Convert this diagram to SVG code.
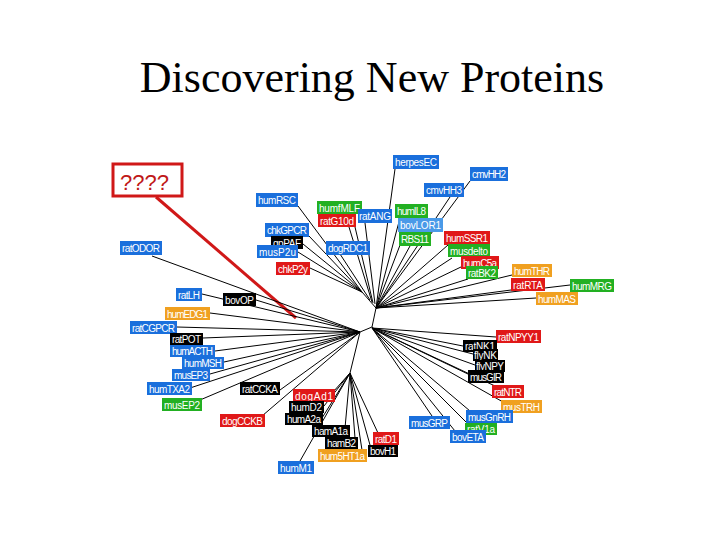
<svg xmlns="http://www.w3.org/2000/svg" width="720" height="540" viewBox="0 0 720 540">
<style>
.l{font-family:"Liberation Sans",Arial,sans-serif;font-size:10px;fill:#fff}
.b{fill:#1a6fdc}.g{fill:#22b022}.r{fill:#e01818}.o{fill:#f0a020}.k{fill:#000}.c{fill:#4a9ae8}
#edges line,#edges polyline{stroke:#000;stroke-width:1;fill:none}
</style>
<rect width="720" height="540" fill="#fff"/>
<text x="372" y="92" text-anchor="middle" font-family="Liberation Serif,serif" font-size="44">Discovering New Proteins</text>
<g id="unknown">
<rect x="113" y="164" width="69" height="32" fill="none" stroke="#d01818" stroke-width="3"/>
<text x="120" y="190" font-family="Liberation Sans,Arial,sans-serif" font-size="22" fill="#c01818">????</text>
<line x1="156" y1="197" x2="296" y2="318" stroke="#d01818" stroke-width="3"/>
</g>
<g id="edges">
<polyline points="362,292 376,308 372,327 360,332 350,373"/>
<line x1="298" y1="206" x2="362" y2="292"/><line x1="345" y1="214" x2="372" y2="302"/><line x1="355" y1="227" x2="373" y2="303"/><line x1="365" y1="223" x2="375" y2="304"/><line x1="309" y1="236" x2="362" y2="292"/><line x1="303" y1="244" x2="362" y2="292"/><line x1="298" y1="252" x2="362" y2="292"/><line x1="340" y1="254" x2="370" y2="300"/><line x1="310" y1="268" x2="362" y2="292"/>
<line x1="395" y1="169" x2="376" y2="308"/><line x1="470" y1="181" x2="376" y2="308"/><line x1="450" y1="197" x2="376" y2="308"/><line x1="400" y1="218" x2="376" y2="308"/><line x1="405" y1="232" x2="376" y2="308"/><line x1="410" y1="246" x2="376" y2="308"/><line x1="448" y1="245" x2="376" y2="308"/><line x1="452" y1="258" x2="376" y2="308"/><line x1="463" y1="266" x2="376" y2="308"/><line x1="468" y1="279" x2="376" y2="308"/><line x1="512" y1="275" x2="376" y2="308"/><line x1="511" y1="290" x2="376" y2="308"/><line x1="570" y1="285" x2="376" y2="308"/><line x1="536" y1="298" x2="376" y2="308"/>
<line x1="152" y1="256" x2="360" y2="332"/><line x1="256" y1="300" x2="360" y2="332"/><line x1="202" y1="294" x2="360" y2="332"/><line x1="210" y1="313" x2="360" y2="332"/><line x1="177" y1="327" x2="360" y2="332"/><line x1="203" y1="338" x2="360" y2="332"/><line x1="215" y1="351" x2="360" y2="332"/><line x1="224" y1="362" x2="360" y2="332"/><line x1="210" y1="374" x2="360" y2="332"/><line x1="190" y1="388" x2="360" y2="332"/><line x1="200" y1="400" x2="360" y2="332"/><line x1="280" y1="390" x2="360" y2="332"/><line x1="262" y1="416" x2="360" y2="332"/>
<line x1="333" y1="392" x2="350" y2="373"/><line x1="324" y1="406" x2="350" y2="373"/><line x1="322" y1="418" x2="350" y2="373"/><line x1="345" y1="428" x2="350" y2="373"/><line x1="355" y1="438" x2="350" y2="373"/><line x1="362" y1="450" x2="350" y2="373"/><line x1="378" y1="433" x2="350" y2="373"/><line x1="370" y1="445" x2="350" y2="373"/><line x1="300" y1="461" x2="350" y2="373"/>
<line x1="496" y1="337" x2="372" y2="328"/><line x1="463" y1="346" x2="372" y2="328"/><line x1="473" y1="354" x2="372" y2="328"/><line x1="475" y1="365" x2="372" y2="328"/><line x1="470" y1="375" x2="372" y2="328"/><line x1="495" y1="386" x2="372" y2="328"/><line x1="503" y1="402" x2="372" y2="328"/><line x1="470" y1="411" x2="372" y2="328"/><line x1="432" y1="416" x2="372" y2="328"/><line x1="468" y1="424" x2="372" y2="328"/><line x1="455" y1="431" x2="372" y2="328"/>
</g>
<g id="labels">
<g id="herpesEC"><rect class="b" x="393" y="155" width="46" height="14"/><text class="l" x="395" y="166" textLength="42">herpesEC</text></g>
<g id="cmvHH2"><rect class="b" x="470" y="167" width="38" height="14"/><text class="l" x="472" y="178" textLength="34">cmvHH2</text></g>
<g id="cmvHH3"><rect class="b" x="424" y="183" width="40" height="14"/><text class="l" x="426" y="194" textLength="36">cmvHH3</text></g>
<g id="humRSC"><rect class="b" x="256" y="193" width="42" height="14"/><text class="l" x="258" y="204" textLength="38">humRSC</text></g>
<g id="humfMLF"><rect class="g" x="317" y="201" width="45" height="13"/><text class="l" x="319" y="212" textLength="41">humfMLF</text></g>
<g id="ratG10d"><rect class="r" x="318" y="214" width="38" height="13"/><text class="l" x="320" y="225" textLength="34">ratG10d</text></g>
<g id="ratANG"><rect class="b" x="358" y="209" width="34" height="14"/><text class="l" x="359" y="220" textLength="32">ratANG</text></g>
<g id="humIL8"><rect class="g" x="395" y="204" width="33" height="14"/><text class="l" x="397" y="215" textLength="29">humIL8</text></g>
<g id="bovLOR1"><rect class="c" x="398" y="218" width="45" height="14"/><text class="l" x="400" y="229" textLength="41">bovLOR1</text></g>
<g id="chkGPCR"><rect class="b" x="265" y="223" width="44" height="14"/><text class="l" x="267" y="234" textLength="40">chkGPCR</text></g>
<g id="RBS11"><rect class="g" x="399" y="232" width="32" height="14"/><text class="l" x="401" y="243" textLength="28">RBS11</text></g>
<g id="humSSR1"><rect class="r" x="444" y="231" width="46" height="14"/><text class="l" x="446" y="242" textLength="42">humSSR1</text></g>
<g id="gpPAF"><rect class="k" x="271" y="236" width="32" height="13"/><text class="l" x="273" y="247" textLength="28">gpPAF</text></g>
<g id="dogRDC1"><rect class="b" x="326" y="241" width="44" height="14"/><text class="l" x="328" y="252" textLength="40">dogRDC1</text></g>
<g id="musP2u"><rect class="b" x="257" y="245" width="41" height="13"/><text class="l" x="259" y="256" textLength="37">musP2u</text></g>
<g id="musdelto"><rect class="g" x="448" y="244" width="42" height="13"/><text class="l" x="450" y="255" textLength="38">musdelto</text></g>
<g id="humC5a"><rect class="r" x="461" y="256" width="38" height="13"/><text class="l" x="463" y="267" textLength="34">humC5a</text></g>
<g id="chkP2y"><rect class="r" x="276" y="262" width="34" height="13"/><text class="l" x="278" y="273" textLength="30">chkP2y</text></g>
<g id="ratBK2"><rect class="g" x="466" y="266" width="32" height="13"/><text class="l" x="468" y="277" textLength="28">ratBK2</text></g>
<g id="humTHR"><rect class="o" x="512" y="264" width="40" height="13"/><text class="l" x="514" y="275" textLength="36">humTHR</text></g>
<g id="ratODOR"><rect class="b" x="120" y="241" width="42" height="14"/><text class="l" x="122" y="252" textLength="38">ratODOR</text></g>
<g id="ratRTA"><rect class="r" x="511" y="278" width="34" height="13"/><text class="l" x="513" y="289" textLength="30">ratRTA</text></g>
<g id="humMRG"><rect class="g" x="570" y="279" width="44" height="13"/><text class="l" x="572" y="290" textLength="40">humMRG</text></g>
<g id="bovOP"><rect class="k" x="223" y="293" width="33" height="13"/><text class="l" x="225" y="304" textLength="29">bovOP</text></g>
<g id="ratLH"><rect class="b" x="176" y="288" width="26" height="13"/><text class="l" x="178" y="299" textLength="22">ratLH</text></g>
<g id="humMAS"><rect class="o" x="536" y="292" width="42" height="13"/><text class="l" x="538" y="303" textLength="38">humMAS</text></g>
<g id="humEDG1"><rect class="o" x="165" y="307" width="45" height="13"/><text class="l" x="167" y="318" textLength="41">humEDG1</text></g>
<g id="ratCGPCR"><rect class="b" x="130" y="321" width="47" height="13"/><text class="l" x="132" y="332" textLength="43">ratCGPCR</text></g>
<g id="ratNPYY1"><rect class="r" x="496" y="330" width="45" height="13"/><text class="l" x="498" y="341" textLength="41">ratNPYY1</text></g>
<g id="ratNK1"><rect class="k" x="463" y="340" width="34" height="12"/><text class="l" x="465" y="350" textLength="30">ratNK1</text></g>
<g id="ratPOT"><rect class="k" x="170" y="333" width="33" height="12"/><text class="l" x="172" y="343" textLength="29">ratPOT</text></g>
<g id="flyNK"><rect class="k" x="473" y="349" width="25" height="12"/><text class="l" x="474" y="359" textLength="23">flyNK</text></g>
<g id="humACTH"><rect class="b" x="170" y="345" width="45" height="12"/><text class="l" x="172" y="355" textLength="41">humACTH</text></g>
<g id="humMSH"><rect class="b" x="182" y="357" width="42" height="12"/><text class="l" x="184" y="367" textLength="38">humMSH</text></g>
<g id="flyNPY"><rect class="k" x="475" y="360" width="30" height="12"/><text class="l" x="476" y="370" textLength="28">flyNPY</text></g>
<g id="musEP3"><rect class="b" x="172" y="369" width="38" height="12"/><text class="l" x="174" y="379" textLength="34">musEP3</text></g>
<g id="musGIR"><rect class="k" x="468" y="370" width="36" height="13"/><text class="l" x="470" y="381" textLength="32">musGIR</text></g>
<g id="humTXA2"><rect class="b" x="147" y="382" width="45" height="13"/><text class="l" x="149" y="393" textLength="41">humTXA2</text></g>
<g id="ratCCKA"><rect class="k" x="240" y="382" width="40" height="13"/><text class="l" x="242" y="393" textLength="36">ratCCKA</text></g>
<g id="ratNTR"><rect class="r" x="492" y="385" width="32" height="13"/><text class="l" x="494" y="396" textLength="28">ratNTR</text></g>
<g id="dogAd1"><rect class="r" x="293" y="389" width="42" height="13"/><text class="l" x="295" y="400" textLength="38">dogAd1</text></g>
<g id="musEP2"><rect class="g" x="162" y="398" width="40" height="13"/><text class="l" x="164" y="409" textLength="36">musEP2</text></g>
<g id="musTRH"><rect class="o" x="501" y="400" width="41" height="13"/><text class="l" x="503" y="411" textLength="37">musTRH</text></g>
<g id="humD2"><rect class="k" x="289" y="401" width="35" height="12"/><text class="l" x="291" y="411" textLength="31">humD2</text></g>
<g id="musGnRH"><rect class="b" x="466" y="410" width="47" height="13"/><text class="l" x="468" y="421" textLength="43">musGnRH</text></g>
<g id="musGRP"><rect class="b" x="409" y="416" width="41" height="13"/><text class="l" x="411" y="427" textLength="37">musGRP</text></g>
<g id="dogCCKB"><rect class="r" x="220" y="414" width="45" height="13"/><text class="l" x="222" y="425" textLength="41">dogCCKB</text></g>
<g id="humA2a"><rect class="k" x="285" y="413" width="38" height="12"/><text class="l" x="287" y="423" textLength="34">humA2a</text></g>
<g id="ratV1a"><rect class="g" x="465" y="423" width="32" height="12"/><text class="l" x="467" y="433" textLength="28">ratV1a</text></g>
<g id="hamA1a"><rect class="k" x="312" y="425" width="38" height="12"/><text class="l" x="314" y="435" textLength="34">hamA1a</text></g>
<g id="bovETA"><rect class="b" x="450" y="430" width="36" height="13"/><text class="l" x="452" y="441" textLength="32">bovETA</text></g>
<g id="ratD1"><rect class="r" x="373" y="432" width="26" height="13"/><text class="l" x="375" y="443" textLength="22">ratD1</text></g>
<g id="hamB2"><rect class="k" x="325" y="437" width="33" height="12"/><text class="l" x="327" y="447" textLength="29">hamB2</text></g>
<g id="bovH1"><rect class="k" x="368" y="445" width="30" height="12"/><text class="l" x="370" y="455" textLength="26">bovH1</text></g>
<g id="hum5HT1a"><rect class="o" x="318" y="449" width="49" height="13"/><text class="l" x="320" y="460" textLength="45">hum5HT1a</text></g>
<g id="humM1"><rect class="b" x="278" y="461" width="36" height="13"/><text class="l" x="280" y="472" textLength="32">humM1</text></g>
</g>
</svg>
